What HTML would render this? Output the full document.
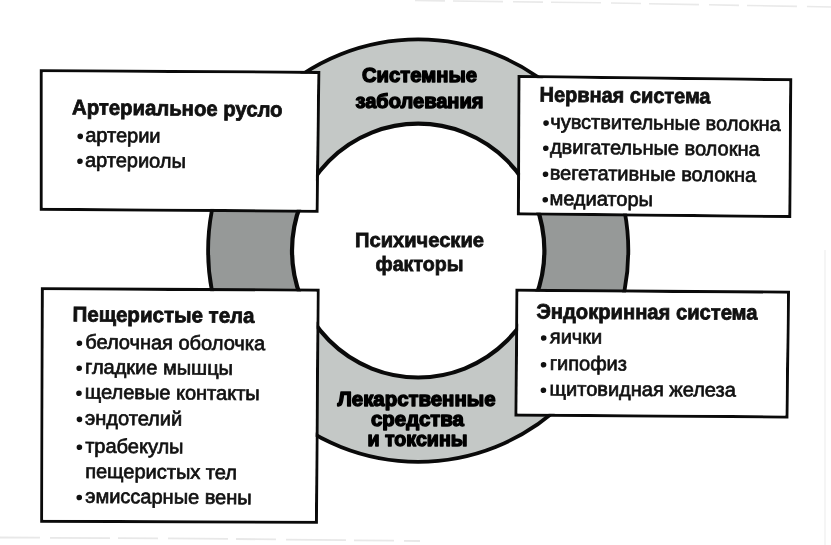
<!DOCTYPE html>
<html>
<head>
<meta charset="utf-8">
<style>
html,body{margin:0;padding:0;background:#fff;}
body{width:831px;height:545px;overflow:hidden;position:relative;}
svg{position:absolute;left:0;top:0;filter:blur(0.45px);}
text{font-family:"Liberation Sans",sans-serif;font-size:20px;fill:#111;}
.b{font-weight:bold;stroke:#111;stroke-width:0.8px;}
.t{font-size:21px;}
.r{font-weight:bold;font-size:20.5px;fill:#000;stroke:#000;stroke-width:1.4px;stroke-linejoin:round;}
.n{stroke:#111;stroke-width:0.7px;}
</style>
</head>
<body>
<svg width="831" height="545" viewBox="0 0 831 545">
  <defs>
    <clipPath id="cl"><rect x="0" y="0" width="418" height="211"/><rect x="418" y="0" width="413" height="216"/><rect x="0" y="288" width="418" height="257"/><rect x="418" y="290" width="413" height="255"/></clipPath>
  </defs>
  <!-- scan artifacts -->
  <path d="M415,0.5 L600,2.8 L831,7" fill="none" stroke="#e9e9e9" stroke-width="1.6" stroke-dasharray="30 8 50 10"/>
  <path d="M0,537.5 L200,538.6 L420,541" fill="none" stroke="#e8e8e8" stroke-width="1.8" stroke-dasharray="40 10 60 8"/>
  <line x1="825" y1="250" x2="825" y2="545" stroke="#f2f2f2" stroke-width="1.5"/>
  <!-- ring -->
  <ellipse cx="418.2" cy="250.6" rx="210.5" ry="211.5" fill="#969998" stroke="none"/>
  <ellipse cx="418.2" cy="250.6" rx="210.5" ry="211.5" fill="#c4c8c6" stroke="none" clip-path="url(#cl)"/>
  <ellipse cx="418.2" cy="250.6" rx="210.1" ry="211.2" fill="none" stroke="#0a0a0a" stroke-width="3.8"/>
  <ellipse cx="418.2" cy="250.6" rx="126.2" ry="126.9" fill="#fff" stroke="#0a0a0a" stroke-width="4.2"/>

  <!-- boxes -->
  <path d="M39.8,69.3 L320.3,70.9 L318.5,212.7 L39.8,210.8 Z M42.8,72.3 L317.3,73.9 L315.5,209.7 L42.8,207.8 Z" fill="#0a0a0a" fill-rule="evenodd"/>
  <path d="M42.8,72.3 L317.3,73.9 L315.5,209.7 L42.8,207.8 Z" fill="#fff"/>
  <path d="M517.6,74.9 L792.2,78.3 L791.2,218.0 L516.9,215.2 Z M520.6,77.9 L789.2,81.3 L788.2,215.0 L519.9,212.2 Z" fill="#0a0a0a" fill-rule="evenodd"/>
  <path d="M520.6,77.9 L789.2,81.3 L788.2,215.0 L519.9,212.2 Z" fill="#fff"/>
  <path d="M40.9,287.2 L319.6,288.7 L317.9,523.8 L40.2,522.7 Z M43.9,290.2 L316.6,291.7 L314.9,520.8 L43.2,519.7 Z" fill="#0a0a0a" fill-rule="evenodd"/>
  <path d="M43.9,290.2 L316.6,291.7 L314.9,520.8 L43.2,519.7 Z" fill="#fff"/>
  <path d="M515.5,288.7 L790.0,290.8 L788.4,418.5 L514.5,416.5 Z M518.5,291.7 L787.0,293.8 L785.4,415.5 L517.5,413.5 Z" fill="#0a0a0a" fill-rule="evenodd"/>
  <path d="M518.5,291.7 L787.0,293.8 L785.4,415.5 L517.5,413.5 Z" fill="#fff"/>

  <!-- ring texts -->
  <g text-anchor="middle">
    <text class="r" x="419.5" y="82.3" textLength="115" lengthAdjust="spacingAndGlyphs">Системные</text>
    <text class="r" x="419.5" y="108" textLength="128" lengthAdjust="spacingAndGlyphs">заболевания</text>
    <text class="b t" x="419.5" y="247" textLength="129" lengthAdjust="spacingAndGlyphs">Психические</text>
    <text class="b t" x="419.5" y="271.3" textLength="88" lengthAdjust="spacingAndGlyphs">факторы</text>
    <text class="r" x="416.5" y="405.8" textLength="158" lengthAdjust="spacingAndGlyphs">Лекарственные</text>
    <text class="r" x="417.5" y="425.8" textLength="93" lengthAdjust="spacingAndGlyphs">средства</text>
    <text class="r" x="417.5" y="445.5" textLength="100" lengthAdjust="spacingAndGlyphs">и токсины</text>
  </g>

  <!-- box 1 -->
  <g transform="rotate(0.65 72 114)">
  <text class="b t" x="72" y="114.3" textLength="210.5" lengthAdjust="spacingAndGlyphs">Артериальное русло</text>
  <circle cx="80.5" cy="136.3" r="2.8" fill="#111"/><text class="n" x="85.5" y="141.6">артерии</text>
  <circle cx="80.5" cy="161.2" r="2.8" fill="#111"/><text class="n" x="85.5" y="166.5">артериолы</text>
  </g>
  <!-- box 2 -->
  <g transform="rotate(0.6 539 101)">
  <text class="b t" x="539.5" y="101.6" textLength="171" lengthAdjust="spacingAndGlyphs">Нервная система</text>
  <circle cx="546.3" cy="123.0" r="2.8" fill="#111"/><text class="n" x="550.5" y="128.3">чувствительные волокна</text>
  <circle cx="546.3" cy="148.2" r="2.8" fill="#111"/><text class="n" x="550.5" y="153.5">двигательные волокна</text>
  <circle cx="546.3" cy="174.2" r="2.8" fill="#111"/><text class="n" x="550.5" y="179.5">вегетативные волокна</text>
  <circle cx="546.3" cy="199.7" r="2.8" fill="#111"/><text class="n" x="550.5" y="205">медиаторы</text>
  </g>
  <!-- box 3 -->
  <g transform="rotate(0.5 72 321)">
  <text class="b t" x="72.5" y="321.3" textLength="182" lengthAdjust="spacingAndGlyphs">Пещеристые тела</text>
  <circle cx="79.6" cy="343.2" r="2.8" fill="#111"/><text class="n" x="85.5" y="348.5">белочная оболочка</text>
  <circle cx="79.6" cy="368.2" r="2.8" fill="#111"/><text class="n" x="85.5" y="373.5">гладкие мышцы</text>
  <circle cx="79.6" cy="393.2" r="2.8" fill="#111"/><text class="n" x="85.5" y="398.5">щелевые контакты</text>
  <circle cx="80.3" cy="419.3" r="2.8" fill="#111"/><text class="n" x="86" y="424.6">эндотелий</text>
  <circle cx="80.5" cy="447.2" r="2.8" fill="#111"/><text class="n" x="86.3" y="452.5">трабекулы</text>
  <text class="n" x="86.5" y="477.8">пещеристых тел</text>
  <circle cx="80.8" cy="497.5" r="2.8" fill="#111"/><text class="n" x="86.8" y="502.7">эмиссарные вены</text>
  </g>
  <!-- box 4 -->
  <g transform="rotate(0.3 536 318)">
  <text class="b t" x="536.5" y="318.5" textLength="221" lengthAdjust="spacingAndGlyphs">Эндокринная система</text>
  <circle cx="543.8" cy="338.0" r="2.8" fill="#111"/><text class="n" x="550" y="343.3">яички</text>
  <circle cx="543.8" cy="364.7" r="2.8" fill="#111"/><text class="n" x="550" y="370">гипофиз</text>
  <circle cx="543.8" cy="390.2" r="2.8" fill="#111"/><text class="n" x="550" y="395.5">щитовидная железа</text>
  </g>
</svg>
</body>
</html>
